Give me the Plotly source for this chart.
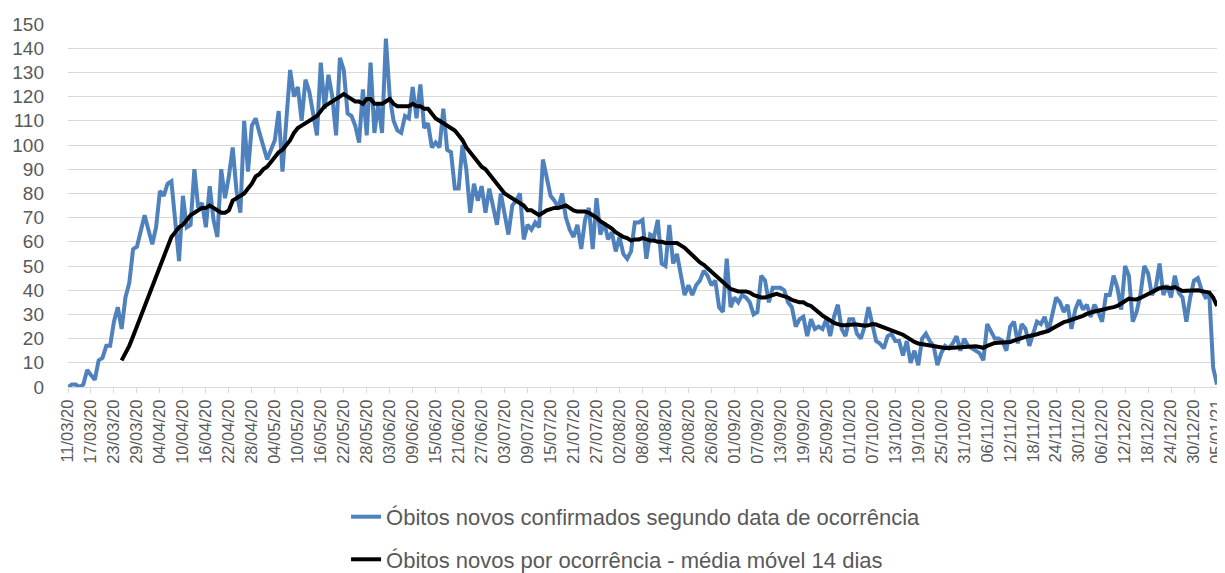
import pandas as pd
import plotly.graph_objects as go

start_date = "2020-03-11"
end_date = "2021-01-05"
ma_start_offset = 14

daily_deaths = [
    0, 1, 1, 0, 1, 7, 5, 3, 11, 12,
    17, 17, 27, 33, 24, 37, 43, 57, 58, 64,
    71, 65, 59, 66, 81, 79, 84, 85, 68, 52,
    79, 66, 67, 90, 74, 76, 66, 83, 69, 62,
    90, 78, 87, 99, 81, 72, 110, 89, 108, 111,
    105, 100, 94, 98, 102, 114, 89, 110, 131, 120,
    124, 110, 127, 122, 112, 104, 134, 115, 129, 120,
    104, 136, 131, 113, 112, 108, 101, 123, 104, 134,
    105, 117, 105, 144, 120, 110, 106, 105, 112, 111,
    124, 111, 125, 107, 109, 99, 101, 99, 115, 98,
    97, 82, 82, 100, 90, 72, 84, 77, 83, 72,
    82, 75, 67, 80, 72, 63, 75, 77, 80, 61,
    67, 65, 68, 66, 94, 86, 79, 77, 74, 80,
    70, 65, 62, 67, 57, 69, 74, 57, 78, 63,
    68, 61, 64, 56, 62, 55, 53, 56, 68, 68,
    69, 53, 63, 62, 69, 51, 50, 67, 51, 55,
    47, 38, 42, 38, 42, 44, 48, 46, 42, 44,
    33, 31, 53, 33, 37, 35, 38, 37, 35, 30,
    31, 46, 44, 35, 41, 41, 41, 40, 35, 33,
    25, 28, 29, 21, 28, 24, 25, 24, 28, 21,
    29, 34, 24, 21, 28, 28, 22, 20, 25, 33,
    25, 19, 18, 16, 21, 22, 19, 19, 13, 19,
    10, 15, 9, 20, 22, 19, 17, 9, 14, 17,
    16, 18, 21, 15, 20, 17, 16, 15, 14, 11,
    26, 23, 20, 20, 19, 15, 25, 27, 18, 26,
    24, 17, 22, 27, 26, 29, 23, 30, 37, 35,
    31, 34, 24, 32, 36, 32, 34, 29, 34, 31,
    27, 38, 38, 46, 41, 32, 50, 46, 27, 31,
    38, 50, 47, 38, 41, 51, 38, 42, 37, 46,
    39, 37, 27, 37, 44, 45, 40, 37, 38, 8,
    1,
]

moving_avg_14 = [
    11, 14, 17, 21, 25, 29,
    33, 37, 41, 45, 49, 54, 58, 62, 64, 66,
    67, 69, 71, 72, 73, 74, 74, 75, 74, 73,
    72, 72, 73, 77, 78, 79, 80, 82, 84, 87,
    88, 90, 91, 93, 95, 97, 98, 100, 102, 105,
    107, 108, 109, 110, 111, 112, 114, 116, 117, 118,
    119, 120, 121, 120, 119, 118, 118, 117, 119, 119,
    117, 117, 117, 118, 119, 117, 116, 116, 116, 116,
    117, 116, 116, 115, 115, 113, 111, 110, 109, 108,
    107, 106, 104, 102, 99, 97, 95, 93, 91, 90,
    88, 86, 84, 82, 80, 79, 78, 77, 76, 75,
    73, 73, 72, 71, 72, 73, 73.5, 74, 74, 74.5,
    75, 74, 73, 72.5, 72.5, 72.5, 72, 71, 70, 68.5,
    67.5, 66.5, 65.5, 64, 63, 62, 61.5, 60.5, 61, 61,
    61.5, 61, 60.5, 60.5, 60, 60, 59.5, 59.5, 59.5, 59.5,
    58.5, 57.5, 56, 54.5, 52.5, 51.5, 50.5, 49, 47.5, 46,
    44.5, 43, 41.5, 40.5, 40, 39.5, 39.5, 39.5, 39, 38,
    37.5, 37, 37, 37.5, 38, 38.5, 38, 37.5, 37, 36,
    35.5, 35, 35, 34, 33.5, 32, 30.5, 29.5, 28.5, 27.5,
    26.5, 26, 25.5, 25.5, 25.8, 25.8, 25.8, 25.5, 25.3, 25.5,
    26, 25.8, 25.2, 24.8, 24.2, 23.6, 23.1, 22.6, 21.6, 20.6,
    19.5, 18.6, 18, 17.7, 17.5, 17.2, 17, 16.6, 16.3, 16.1,
    16.1, 16.2, 16.4, 16.5, 16.2, 16.5, 16.8, 16.8, 16.5, 16.2,
    17, 17.6, 18.2, 18.3, 18.3, 18.2, 18.6, 19.2, 19.8, 20.3,
    20.7, 21.1, 21.3, 21.8, 22.3, 22.8, 23.2, 24.2, 25.2, 26,
    26.8, 27.2, 27.7, 28.3, 28.8, 29.4, 30.2, 30.8, 31.2, 31.5,
    32, 32.3, 32.7, 33, 33.5, 34.5, 35.5, 36.5, 36.3, 36.2,
    36.8, 37.6, 38.6, 39.4, 40.2, 40.8, 41.2, 40.8, 40.8, 41.3,
    40.5, 39.7, 39.8, 39.9, 40.2, 40, 39.6, 39.3, 39, 37,
    33.5,
]

series_names = [
    "Óbitos novos confirmados segundo data de ocorrência",
    "Óbitos novos por ocorrência - média móvel 14 dias",
]

dates = pd.date_range(start_date, end_date, freq="D")
ma_dates = dates[ma_start_offset:ma_start_offset + len(moving_avg_14)]

FONT = "Liberation Sans"
GRAY = "#595959"

fig = go.Figure()
fig.add_trace(go.Scatter(
    x=dates, y=daily_deaths, mode="lines", name=series_names[0],
    legendgroup="a",
    line=dict(color="#4F81BD", width=4),
))
fig.add_trace(go.Scatter(
    x=ma_dates, y=moving_avg_14, mode="lines", name=series_names[1],
    legendgroup="b",
    line=dict(color="#000000", width=4),
))

fig.update_layout(
    width=1225, height=573,
    margin=dict(l=60, r=16, t=16, b=194, autoexpand=False),
    paper_bgcolor="white", plot_bgcolor="white",
    font=dict(family=FONT, color=GRAY, size=18),
    showlegend=True,
    legend=dict(
        orientation="v", x=0.242, xanchor="left", y=-0.300, yanchor="top",
        font=dict(family=FONT, size=22, color=GRAY),
        tracegroupgap=11, traceorder="grouped",
        bgcolor="rgba(0,0,0,0)",
    ),
)
fig.update_xaxes(
    type="date",
    range=[start_date, end_date],
    tick0=start_date, dtick=6 * 86400000,
    tickformat="%d/%m/%y", tickangle=-90,
    tickfont=dict(family=FONT, size=16.5, color=GRAY),
    showgrid=False, showline=True, linecolor="#d9d9d9", linewidth=1,
    ticks="outside", ticklen=5, tickcolor="#d9d9d9",
    zeroline=False, automargin=False,
)
fig.update_yaxes(
    range=[0, 150], dtick=10, tick0=0,
    tickfont=dict(family=FONT, size=19, color=GRAY),
    showgrid=True, gridcolor="#d9d9d9", gridwidth=1,
    showline=False, zeroline=False, ticks="",
    ticklabelstandoff=23, automargin=False,
)

fig.write_html("out.html")
